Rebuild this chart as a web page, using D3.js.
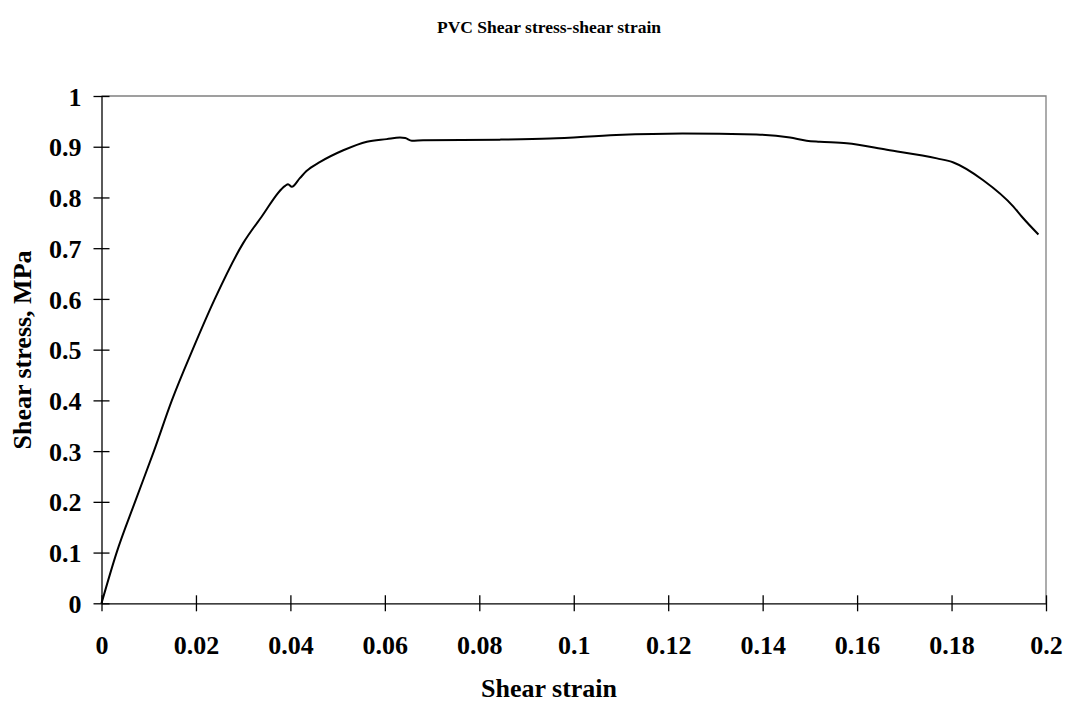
<!DOCTYPE html>
<html><head><meta charset="utf-8">
<script src="https://cdn.jsdelivr.net/npm/d3@7/dist/d3.min.js"></script>
<style>body{margin:0;background:#fff}svg{display:block}text{font-family:"Liberation Serif","Times New Roman",serif;font-weight:bold;fill:#000}</style>
</head><body><svg id="c" width="1065" height="704"></svg>
<script>
const strain = [0, 0.0032, 0.0071, 0.0111, 0.0149, 0.0193, 0.0240, 0.0300, 0.0339, 0.0389, 0.0395, 0.0403, 0.0420, 0.0434, 0.0463, 0.0512, 0.0562, 0.0604, 0.0632, 0.0643, 0.0657, 0.0681, 0.0844, 0.0950, 0.1090, 0.1230, 0.1387, 0.1458, 0.1493, 0.1521, 0.1578, 0.1663, 0.1769, 0.1804, 0.1867, 0.1931, 0.1949, 0.1984];
const stress = [0, 0.1, 0.2, 0.3, 0.4, 0.5, 0.6, 0.710, 0.762, 0.823, 0.826, 0.821, 0.838, 0.852, 0.870, 0.893, 0.910, 0.915, 0.918, 0.917, 0.912, 0.913, 0.914, 0.916, 0.923, 0.926, 0.924, 0.918, 0.912, 0.910, 0.907, 0.894, 0.877, 0.869, 0.834, 0.782, 0.762, 0.727];
const xTicks = [0, 0.02, 0.04, 0.06, 0.08, 0.1, 0.12, 0.14, 0.16, 0.18, 0.2];
const yTicks = [0, 0.1, 0.2, 0.3, 0.4, 0.5, 0.6, 0.7, 0.8, 0.9, 1];
const title = "PVC Shear stress-shear strain";
const xTitle = "Shear strain";
const yTitle = "Shear stress, MPa";

const svg = d3.select("#c");
const L = 101.5, R = 1046, T = 96, B = 603.3;
const x = d3.scaleLinear().domain([0, 0.2]).range([L, R]);
const y = d3.scaleLinear().domain([0, 1]).range([B, T]);

svg.append("path").attr("d", `M${L},${T}H${R}V${B}`).attr("fill","none").attr("stroke","#808080").attr("stroke-width",1.3);

const xa = svg.append("g").attr("transform", `translate(0,${B})`)
  .call(d3.axisBottom(x).tickValues(xTicks).tickSize(8).tickSizeOuter(0).tickFormat(d => d3.format("")(d)));
xa.select(".domain").attr("stroke","#000").attr("stroke-width",1.3);
xa.selectAll(".tick line").attr("y1",-8).attr("y2",8).attr("stroke","#000").attr("stroke-width",1.3);
xa.selectAll(".tick text").attr("y",32).attr("dy","0.71em").attr("font-size",26).style("font-family","Liberation Serif").style("font-weight","bold");

const ya = svg.append("g").attr("transform", `translate(${L},0)`)
  .call(d3.axisLeft(y).tickValues(yTicks).tickSize(8).tickSizeOuter(0).tickFormat(d => d3.format("")(d)));
ya.select(".domain").attr("stroke","#000").attr("stroke-width",1.3);
ya.selectAll(".tick line").attr("x1",-8).attr("x2",8).attr("stroke","#000").attr("stroke-width",1.3);
ya.selectAll(".tick text").attr("x",-20).attr("dy","0.35em").attr("font-size",26).style("font-family","Liberation Serif").style("font-weight","bold");

const line = d3.line().x((d,i)=>x(strain[i])).y((d,i)=>y(stress[i])).curve(d3.curveMonotoneX);
svg.append("path").datum(strain).attr("d", line).attr("fill","none").attr("stroke","#000").attr("stroke-width",2).attr("stroke-linejoin","round");

svg.append("text").attr("x",549).attr("y",33).attr("text-anchor","middle").attr("font-size",17.5).text(title);
svg.append("text").attr("x",549).attr("y",697).attr("text-anchor","middle").attr("font-size",26).text(xTitle);
svg.append("text").attr("transform","translate(31,350) rotate(-90)").attr("text-anchor","middle").attr("font-size",26).text(yTitle);
</script></body></html>
